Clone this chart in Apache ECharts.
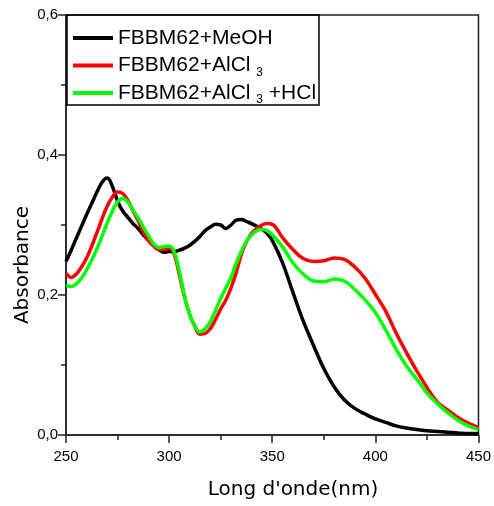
<!DOCTYPE html>
<html>
<head>
<meta charset="utf-8">
<script src="https://cdn.jsdelivr.net/npm/echarts@6/dist/echarts.min.js"></script>
<style>html,body{margin:0;padding:0;background:#fff}#c{width:494px;height:506px}</style>
</head>
<body>
<div id="c"></div>
<script>
const wavelength = [250,252.5,255,257.5,260,262.5,265,267.5,270,272.5,275,277.5,280,282.5,285,287.5,290,292.5,295,297.5,300,302.5,305,307.5,310,312.5,315,317.5,320,322.5,325,327.5,330,332.5,335,337.5,340,342.5,345,347.5,350,355,360,365,370,375,380,385,390,395,400,405,410,415,420,425,430,435,440,445,450];
const meoh = [0.248,0.264,0.281,0.298,0.315,0.331,0.347,0.361,0.367,0.355,0.334,0.320,0.311,0.302,0.295,0.286,0.278,0.271,0.265,0.261,0.262,0.262,0.264,0.267,0.271,0.277,0.284,0.292,0.297,0.301,0.300,0.295,0.300,0.307,0.308,0.305,0.302,0.298,0.294,0.288,0.278,0.246,0.204,0.163,0.128,0.095,0.069,0.050,0.038,0.030,0.023,0.018,0.013,0.010,0.008,0.006,0.005,0.004,0.003,0.002,0.002];
const alcl3 = [0.231,0.225,0.230,0.240,0.253,0.270,0.289,0.309,0.327,0.340,0.347,0.345,0.335,0.320,0.306,0.290,0.278,0.270,0.265,0.265,0.267,0.258,0.228,0.197,0.172,0.155,0.144,0.145,0.152,0.165,0.180,0.193,0.210,0.232,0.258,0.276,0.288,0.295,0.300,0.302,0.301,0.282,0.265,0.252,0.248,0.249,0.253,0.251,0.240,0.224,0.201,0.177,0.146,0.118,0.092,0.068,0.047,0.036,0.025,0.017,0.011];
const alcl3hcl = [0.214,0.212,0.216,0.224,0.236,0.250,0.266,0.284,0.303,0.320,0.333,0.338,0.333,0.321,0.310,0.297,0.285,0.273,0.268,0.269,0.270,0.262,0.233,0.198,0.172,0.156,0.147,0.152,0.162,0.178,0.195,0.210,0.225,0.245,0.262,0.277,0.286,0.292,0.294,0.292,0.286,0.269,0.246,0.230,0.220,0.219,0.223,0.220,0.208,0.193,0.175,0.150,0.123,0.099,0.080,0.060,0.045,0.032,0.021,0.013,0.008];
const seriesNames = ['FBBM62+MeOH','FBBM62+AlCl3','FBBM62+AlCl3+HCl'];
const legendLabels = ['FBBM62+MeOH','FBBM62+AlCl {sub|3}','FBBM62+AlCl {sub|3} +HCl'];
const seriesColors = ['#000000','#ff0000','#00ff00'];
const xTickLabels = ['250','300','350','400','450'];
const yTickLabels = ['0,0','0,2','0,4','0,6'];
const xTitle = "Long d'onde(nm)";
const yTitle = 'Absorbance';

const values = [meoh, alcl3, alcl3hcl];
const chart = echarts.init(document.getElementById('c'), null, {renderer:'canvas'});
const tickFont = "'Liberation Sans Narrow','Arial Narrow','Liberation Sans',Arial,sans-serif";
const axisColor = '#222';
chart.setOption({
  animation: false,
  backgroundColor: '#fff',
  grid: {left: 66, right: 15, top: 15, bottom: 71, show: true, borderColor: axisColor, borderWidth: 1.5, backgroundColor: 'transparent'},
  xAxis: {
    type: 'value', min: 250, max: 450, interval: 50,
    axisLine: {show: true, lineStyle: {color: axisColor, width: 1.5}},
    axisTick: {show: true, inside: false, length: 8, lineStyle: {color: axisColor, width: 1.5}},
    minorTick: {show: true, splitNumber: 2, length: 5, lineStyle: {color: axisColor, width: 1.5}},
    splitLine: {show: false},
    axisLabel: {margin: 14, fontSize: 15, fontFamily: tickFont, color: '#000',
      formatter: (v) => xTickLabels[Math.round((v - 250) / 50)]}
  },
  yAxis: {
    type: 'value', min: 0, max: 0.6, interval: 0.2,
    axisLine: {show: true, lineStyle: {color: axisColor, width: 1.5}},
    axisTick: {show: true, inside: false, length: 8, lineStyle: {color: axisColor, width: 1.5}},
    minorTick: {show: true, splitNumber: 2, length: 5, lineStyle: {color: axisColor, width: 1.5}},
    splitLine: {show: false},
    axisLabel: {margin: 8, fontSize: 15, fontFamily: tickFont, color: '#000',
      formatter: (v) => yTickLabels[Math.round(v / 0.2)]}
  },
  legend: {
    orient: 'vertical', left: 73, top: 25, padding: 0, itemGap: 1.5,
    itemWidth: 40, itemHeight: 4, icon: 'rect',
    data: seriesNames,
    formatter: (name) => legendLabels[seriesNames.indexOf(name)],
    textStyle: {fontSize: 21, fontFamily: "'Liberation Sans',Arial,sans-serif", color: '#000', lineHeight: 26,
      rich: {sub: {fontSize: 12, lineHeight: 8, padding: [14, 0, 0, 0], fontFamily: "'Liberation Sans',Arial,sans-serif", color: '#000'}}}
  },
  graphic: [
    {type: 'rect', shape: {x: 67, y: 15, width: 252, height: 90}, style: {fill: 'rgba(0,0,0,0)', stroke: '#000', lineWidth: 1.5}, z: 10},
    {type: 'text', x: 23, y: 265, rotation: Math.PI / 2,
      style: {text: yTitle, font: "20px 'DejaVu Sans'", fill: '#000', align: 'center', verticalAlign: 'middle'}},
    {type: 'text', x: 293, y: 490,
      style: {text: xTitle, font: "20px 'DejaVu Sans'", fill: '#000', align: 'center', verticalAlign: 'middle'}}
  ],
  series: seriesNames.map((n, k) => ({
    name: n, type: 'line', smooth: 0.4, showSymbol: false, symbol: 'none',
    color: seriesColors[k],
    lineStyle: {color: seriesColors[k], width: 3.5},
    data: wavelength.map((x, i) => [x, values[k][i]]),
    z: 2 + k
  }))
});
</script>
</body>
</html>
